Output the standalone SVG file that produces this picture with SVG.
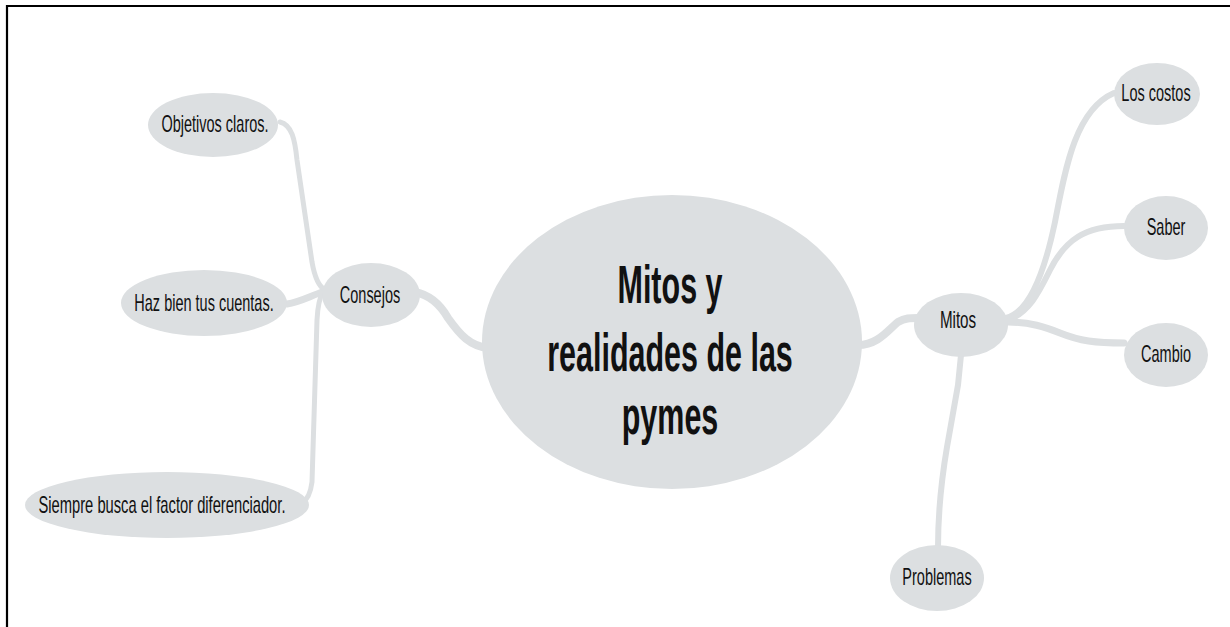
<svg xmlns="http://www.w3.org/2000/svg" width="1230" height="627" viewBox="0 0 1230 627">
<style>
.n{fill:#dcdfe1}
.t{font-family:"Liberation Sans","DejaVu Sans",sans-serif;font-size:23px;fill:#111;text-anchor:middle}
.big{font-family:"Liberation Sans","DejaVu Sans",sans-serif;font-size:53px;font-weight:bold;fill:#111;text-anchor:middle}
.c{fill:none;stroke:#dcdfe1;stroke-linecap:round}
</style>
<rect width="1230" height="627" fill="#fff"/>
<path d="M7 627 V6 H1230" fill="none" stroke="#000" stroke-width="2.2"/>
<g id="connectors">
<path class="c" stroke-width="8" d="M488 348 C470 346 460 335 448 318 C440 304 430 295 415 292"/>
<path class="c" stroke-width="8" d="M858 345 C878 345 888 330 898 322 C905 318 910 318 918 318"/>
<path class="c" stroke-width="5" d="M280 122 C292 125 295 140 297 160 L312 262 Q316 285 325 290"/>
<path class="c" stroke-width="7" d="M287 304 C300 302 310 296 325 291"/>
<path class="c" stroke-width="5" d="M323 292 Q318 300 317 320 L312 482 Q310 498 302 503"/>
<path class="c" stroke-width="6" d="M1006 318 C1030 312 1045 270 1055 222 C1065 170 1075 110 1114 93"/>
<path class="c" stroke-width="6" d="M1008 320 C1030 312 1040 290 1050 270 C1065 240 1085 226 1124 226"/>
<path class="c" stroke-width="7" d="M1008 322 C1030 322 1045 327 1060 333 C1080 341 1095 343 1124 343"/>
<path class="c" stroke-width="6" d="M961 355 L958 385 L947 447 Q938 500 938 548"/>
</g>
<g id="main"><ellipse class="n" cx="672" cy="342" rx="190" ry="147"/>
<text class="big" transform="translate(670 303) scale(0.575 1)">Mitos y</text>
<text class="big" transform="translate(670 371) scale(0.575 1)">realidades de las</text>
<text class="big" transform="translate(670 434) scale(0.575 1)">pymes</text></g>
<g id="consejos"><ellipse class="n" cx="371" cy="295" rx="49" ry="32"/><text class="t" transform="translate(370 303) scale(0.63 1)">Consejos</text></g>
<g id="objetivos"><ellipse class="n" cx="213" cy="125" rx="65" ry="32"/><text class="t" transform="translate(215 132) scale(0.63 1)">Objetivos claros.</text></g>
<g id="haz"><ellipse class="n" cx="204" cy="303" rx="83" ry="33"/><text class="t" transform="translate(204 311) scale(0.63 1)">Haz bien tus cuentas.</text></g>
<g id="siempre"><ellipse class="n" cx="167" cy="505" rx="142" ry="33"/><text class="t" transform="translate(162 513) scale(0.64 1)">Siempre busca el factor diferenciador.</text></g>
<g id="mitos"><ellipse class="n" cx="961" cy="325" rx="47" ry="32"/><text class="t" transform="translate(958 328) scale(0.66 1)">Mitos</text></g>
<g id="costos"><ellipse class="n" cx="1157" cy="94" rx="43" ry="31"/><text class="t" transform="translate(1156 101) scale(0.63 1)">Los costos</text></g>
<g id="saber"><ellipse class="n" cx="1166" cy="228" rx="42" ry="32"/><text class="t" transform="translate(1166 235) scale(0.63 1)">Saber</text></g>
<g id="cambio"><ellipse class="n" cx="1166" cy="355" rx="42" ry="32"/><text class="t" transform="translate(1166 362) scale(0.63 1)">Cambio</text></g>
<g id="problemas"><ellipse class="n" cx="937" cy="578" rx="47" ry="33"/><text class="t" transform="translate(937 585) scale(0.63 1)">Problemas</text></g>
</svg>
